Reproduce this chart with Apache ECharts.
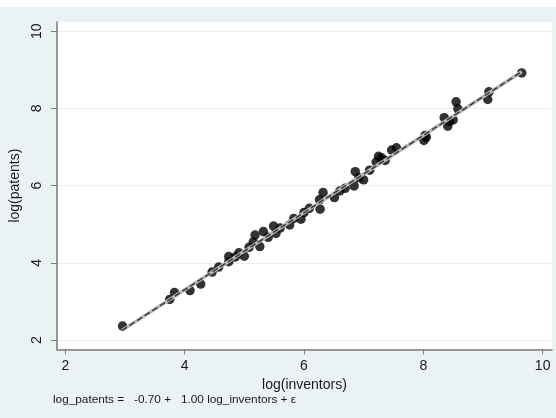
<!DOCTYPE html>
<html><head><meta charset="utf-8">
<script src="https://cdn.jsdelivr.net/npm/echarts@6/dist/echarts.min.js"></script>
<style>html,body{margin:0;padding:0;background:#fff}#c{width:556px;height:418px}</style>
</head><body><div id="c"></div>
<script>
const xTicks = [2, 4, 6, 8, 10];
const yTicks = [2, 4, 6, 8, 10];
const xTitle = 'log(inventors)';
const yTitle = 'log(patents)';
const note = 'log_patents =   -0.70 +   1.00 log_inventors + \u03b5';
const points = [
  [2.96, 2.36], [3.75, 3.05], [3.83, 3.23], [4.09, 3.28], [4.27, 3.45],
  [4.46, 3.76], [4.57, 3.89], [4.74, 4.16], [4.74, 4.03], [4.91, 4.26],
  [5.00, 4.17], [5.15, 4.54], [5.18, 4.72], [5.26, 4.42], [5.32, 4.81],
  [5.40, 4.66], [5.49, 4.95], [5.53, 4.76], [5.76, 4.98], [5.83, 5.15],
  [5.95, 5.13], [6.09, 5.41], [6.26, 5.63], [6.27, 5.39], [6.32, 5.82],
  [6.51, 5.69], [6.69, 5.93], [6.84, 5.99], [6.86, 6.36], [6.92, 6.20],
  [7.00, 6.15], [7.21, 6.61], [7.25, 6.76], [7.36, 6.65], [7.47, 6.92],
  [7.55, 6.98], [8.01, 7.17], [8.03, 7.30], [8.35, 7.76], [8.41, 7.54],
  [8.44, 7.66], [8.55, 8.17], [8.58, 7.99], [9.08, 8.23], [9.10, 8.43],
  [9.65, 8.92],
  [4.85, 4.15], [5.08, 4.40], [5.60, 4.90], [6.00, 5.30], [6.60, 5.86],
  [7.10, 6.40], [7.30, 6.72], [8.05, 7.25], [8.50, 7.70]
];
const fitLine = [[2.95, 2.25], [9.65, 8.95]];

const font = '"Liberation Sans", Arial, Helvetica, sans-serif';
const txt = '#1a1a1a';
const axisCol = '#7a7a7a';

const chart = echarts.init(document.getElementById('c'), null, {renderer: 'canvas'});
chart.setOption({
  animation: false,
  backgroundColor: '#eaf2f3',
  textStyle: {fontFamily: font},
  graphic: [
    {type: 'rect', shape: {x: 0, y: 0, width: 556, height: 7}, style: {fill: '#ffffff'}, silent: true}
  ],
  title: {
    text: note, left: 53, top: 394, padding: 0,
    textStyle: {fontSize: 11.8, fontWeight: 'normal', color: txt, fontFamily: font}
  },
  grid: {left: 51, right: 4, top: 22, bottom: 68.7, show: true, backgroundColor: '#ffffff', borderWidth: 0, containLabel: false},
  xAxis: {
    type: 'value', min: 1.859, max: 10.157,
    name: xTitle, nameLocation: 'middle', nameGap: 24,
    nameTextStyle: {fontSize: 14, color: txt, fontFamily: font},
    axisLine: {show: true, onZero: false, lineStyle: {color: axisCol, width: 1.5}},
    axisTick: {show: true, length: 5, customValues: xTicks, lineStyle: {color: axisCol, width: 1}},
    axisLabel: {customValues: xTicks, fontSize: 14, color: txt, margin: 10, fontFamily: font},
    splitLine: {show: false}
  },
  yAxis: {
    type: 'value', min: 1.759, max: 10.238,
    name: yTitle, nameLocation: 'middle', nameGap: 23,
    nameTextStyle: {fontSize: 14, color: txt, fontFamily: font},
    axisLine: {show: true, onZero: false, lineStyle: {color: axisCol, width: 1.5}},
    axisTick: {show: true, length: 6, customValues: yTicks, lineStyle: {color: axisCol, width: 1}},
    axisLabel: {customValues: yTicks, rotate: 90, fontSize: 14, color: txt, margin: 13, fontFamily: font},
    splitLine: {show: true, lineStyle: {color: '#e8eef0', width: 1}}
  },
  series: [
    {type: 'scatter', data: points, symbol: 'circle', symbolSize: 9.5,
     itemStyle: {color: '#000000'}, z: 2},
    {type: 'line', data: fitLine, symbol: 'none', z: 3,
     lineStyle: {color: '#b8b8b8', width: 3.5}},
    {type: 'line', data: fitLine, symbol: 'none', z: 4,
     lineStyle: {color: '#3a3a3a', width: 1.5, type: [6, 3]}}
  ]
});
</script></body></html>
